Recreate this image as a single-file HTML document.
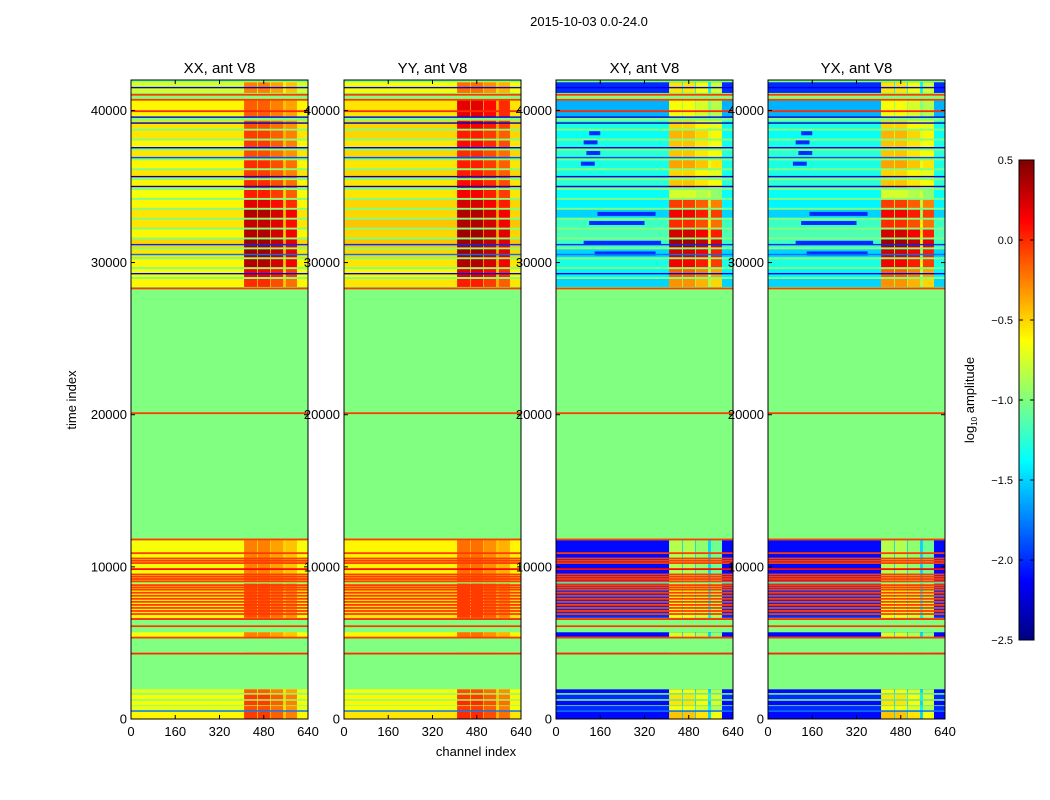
<!DOCTYPE html>
<html><head><meta charset="utf-8">
<style>
body{margin:0;background:#fff;}
svg{display:block;font-family:"Liberation Sans",sans-serif;}
</style></head>
<body>
<svg id="fig" width="1050" height="800" viewBox="0 0 1050 800" xmlns="http://www.w3.org/2000/svg">
<rect width="1050" height="800" fill="#fff"/>
<text x="589" y="26" font-size="13" text-anchor="middle">2015-10-03 0.0-24.0</text>
<text x="76" y="400" font-size="13" text-anchor="middle" transform="rotate(-90 76 400)">time index</text>
<text x="476" y="756" font-size="13" text-anchor="middle">channel index</text>
<g id="panels"></g>
<g id="cbar"></g>
<text x="974" y="400" font-size="13" text-anchor="middle" transform="rotate(-90 974 400)">log<tspan font-size="8" dy="3">10</tspan><tspan dy="-3"> amplitude</tspan></text>
</svg>
<script>
// ---- data ----
const panelTitles = ["XX, ant V8","YY, ant V8","XY, ant V8","YX, ant V8"];
const yTicks = [0,10000,20000,30000,40000];
const xTicks = [0,160,320,480,640];
const cbTicks = [0.5,0.0,-0.5,-1.0,-1.5,-2.0,-2.5];
// time bands of valid data (start, end)
const bandStart = [41150,39600,38800,38150,37500,36850,36200,35550,34900,34250,33600,32950,32300,31650,31000,30350,29700,29050,28400,9000,6650,5400,4250,1700,1300,900,550,0];
const bandEnd   = [41850,40650,39320,38670,38020,37370,36720,36070,35420,34770,34120,33470,32820,32170,31520,30870,30220,29570,28920,11750,8900,5700,4350,1950,1600,1200,850,480];
// left-region value per band (log10 amplitude)
const xxLeft = [-0.75,-0.6,-0.55,-0.55,-0.6,-0.55,-0.6,-0.55,-0.6,-0.65,-0.6,-0.55,-0.55,-0.6,-0.5,-0.55,-0.6,-0.65,-0.6,-0.65,-0.6,-0.65,-0.6,-0.7,-0.65,-0.65,-0.7,-0.6];
const yyLeft = [-0.65,-0.55,-0.5,-0.5,-0.55,-0.5,-0.55,-0.5,-0.55,-0.55,-0.5,-0.5,-0.45,-0.5,-0.45,-0.5,-0.55,-0.6,-0.55,-0.6,-0.55,-0.6,-0.55,-0.65,-0.6,-0.6,-0.65,-0.55];
const xyLeft = [-2.0,-1.6,-1.3,-1.35,-1.3,-1.25,-1.3,-1.3,-1.25,-1.35,-1.4,-1.5,-1.2,-1.15,-1.2,-1.5,-1.3,-1.4,-1.5,-2.1,-2.0,-2.1,-2.1,-2.1,-2.0,-2.1,-2.0,-2.1];
const yxLeft = [-2.0,-1.6,-1.3,-1.35,-1.3,-1.25,-1.3,-1.3,-1.25,-1.35,-1.4,-1.5,-1.2,-1.15,-1.2,-1.5,-1.3,-1.4,-1.5,-2.1,-2.0,-2.1,-2.1,-2.1,-2.0,-2.1,-2.0,-2.1];
// block-region value per band
const xxBlock = [-0.3,-0.2,-0.15,-0.1,-0.1,-0.15,-0.05,-0.1,-0.05,0.0,0.15,0.3,0.25,0.3,0.35,0.35,0.3,0.1,-0.05,-0.3,-0.15,-0.3,-0.3,-0.2,-0.1,-0.1,-0.15,-0.1];
const yyBlock = [-0.25,0.15,0.1,0.0,0.05,-0.05,0.0,0.0,0.05,0.1,0.2,0.3,0.3,0.35,0.35,0.35,0.3,0.15,0.0,-0.25,-0.1,-0.25,-0.3,-0.15,-0.1,-0.05,-0.1,-0.05];
const xyBlock = [-0.6,-0.7,-0.55,-0.45,-0.5,-0.5,-0.4,-0.55,-0.5,-0.8,-0.1,0.1,-0.05,0.2,0.35,0.2,0.1,-0.2,-0.35,-0.9,-0.7,-0.8,-0.7,-0.7,-0.6,-0.6,-0.7,-0.5];
const yxBlock = [-0.6,-0.7,-0.55,-0.45,-0.5,-0.5,-0.4,-0.55,-0.5,-0.8,-0.1,0.1,-0.05,0.2,0.35,0.2,0.1,-0.2,-0.35,-0.9,-0.7,-0.8,-0.7,-0.7,-0.6,-0.6,-0.7,-0.5];
// channel blocks
const blockStart = [409,459,506,560];
const blockEnd   = [456,503,550,600];
const blockOffset = [0.05,0.05,-0.05,-0.15];
// single-row horizontal lines
const redLineT = [41030,40700,39950,28300,20100,11800,10900,10550,10400,10250,9850,9500,9350,9200,9050,8800,8650,8500,8300,8100,7900,7700,7500,7300,7100,6900,6570,6100,5350,4300];
const redLineVal = [-0.05,-0.05,0.0,-0.05,-0.05,-0.05,-0.05,-0.05,-0.05,-0.05,0.1,-0.05,-0.05,-0.05,-0.05,-0.05,-0.05,-0.05,-0.05,-0.05,-0.05,-0.05,-0.05,-0.05,-0.05,-0.05,0.0,-0.05,-0.05,0.0];
const blueLineT = [41500,39560,39170,37550,36900,35650,35000,31180,30530,29270,525];
const blueLineVal = [-2.2,-2.2,-2.3,-2.2,-1.9,-2.3,-2.3,-2.0,-1.8,-2.2,-1.8];
// blue streaks in cross-pol panels (time, channel start, channel end)
const streakT = [38500,37900,37200,36500,33200,32600,31300,30600];
const streakC0 = [120,100,110,90,150,120,100,140];
const streakC1 = [160,150,160,140,360,320,380,360];

// ---- rendering ----
const NS="http://www.w3.org/2000/svg";
const panelX=[131,344,556,768], PW=177, PT=80, PB=719;
const tMax=42000, chMax=640, vmin=-2.5, vmax=0.5;
function jet(v){
  let x=(v-vmin)/(vmax-vmin); x=Math.max(0,Math.min(1,x));
  const f=t=>Math.max(0,Math.min(1,1.5-Math.abs(4*x-t)));
  return `rgb(${Math.round(f(3)*255)},${Math.round(f(2)*255)},${Math.round(f(1)*255)})`;
}
function el(tag,attrs,parent){const e=document.createElementNS(NS,tag);for(const k in attrs)e.setAttribute(k,attrs[k]);parent.appendChild(e);return e;}
const panelsG=document.getElementById('panels');
const leftVals=[xxLeft,yyLeft,xyLeft,yxLeft], blockVals=[xxBlock,yyBlock,xyBlock,yxBlock];
const names=["xx","yy","xy","yx"];
for(let p=0;p<4;p++){
  const x0=panelX[p];
  const xs=c=>x0+c/chMax*PW;
  const ys=t=>PB-t/tMax*(PB-PT);
  const g=el('g',{},panelsG);
  
  
  const bg=el('rect',{x:x0,y:PT,width:PW,height:PB-PT,fill:jet(-1.0)},g);
  
  
  for(let b=0;b<bandStart.length;b++){
    const y1=ys(bandEnd[b]), y2=ys(bandStart[b]);
    const lv=leftVals[p][b], bv=blockVals[p][b];
    const r=el('rect',{x:xs(0),y:y1,width:xs(chMax)-xs(0),height:y2-y1,fill:jet(lv)},g);
    
    
    const gp=el('rect',{x:xs(blockStart[0]),y:y1,width:xs(blockEnd[3])-xs(blockStart[0]),height:y2-y1,fill:jet(p<2?lv+0.15:lv+0.6)},g);
    
    
    for(let k=0;k<blockStart.length;k++){
      const c=el('rect',{x:xs(blockStart[k]),y:y1,width:xs(blockEnd[k])-xs(blockStart[k]),height:y2-y1,fill:jet(bv+blockOffset[k])},g);
      
      
    }
  }
  if(p>=2){
    for(let i=0;i<streakT.length;i++){
      const s=el('rect',{x:xs(streakC0[i]),y:ys(streakT[i])-2,width:xs(streakC1[i])-xs(streakC0[i]),height:4,fill:jet(-2.0)},g);
      
      
    }
  }
  for(let i=0;i<redLineT.length;i++){
    const l=el('rect',{x:x0,y:ys(redLineT[i])-0.9,width:PW,height:1.8,fill:jet(redLineVal[i])},g);
    
    
  }
  for(let i=0;i<blueLineT.length;i++){
    const l=el('rect',{x:x0,y:ys(blueLineT[i])-0.7,width:PW,height:1.4,fill:jet(blueLineVal[i])},g);
    
    
  }
  const fr=el('rect',{x:x0,y:PT,width:PW,height:PB-PT,fill:'none',stroke:'#000','stroke-width':1},g);
  
  
  const tt=el('text',{x:x0+PW/2,y:73,'font-size':15,'text-anchor':'middle'},g);
  tt.textContent=panelTitles[p];
  
  
  for(const t of yTicks){
    const y=ys(t);
    el('line',{x1:x0,x2:x0+4,y1:y,y2:y,stroke:'#000'},g);
    el('line',{x1:x0+PW-4,x2:x0+PW,y1:y,y2:y,stroke:'#000'},g);
    const lb=el('text',{x:x0-4,y:y+4.5,'font-size':13,'text-anchor':'end'},g);
    lb.textContent=t;
    
    
  }
  for(const c of xTicks){
    const x=xs(c);
    el('line',{x1:x,x2:x,y1:PB,y2:PB-4,stroke:'#000'},g);
    el('line',{x1:x,x2:x,y1:PT,y2:PT+4,stroke:'#000'},g);
    const lb=el('text',{x:x,y:PB+17,'font-size':13,'text-anchor':'middle'},g);
    lb.textContent=c;
    
    
  }
}
// colorbar
const cb=document.getElementById('cbar');
const CX=1019,CW=15,CT=160,CB=640;
for(let i=0;i<240;i++){
  const v=vmin+(i+0.5)/240*(vmax-vmin);
  el('rect',{x:CX,y:CB-(i+1)*(CB-CT)/240,width:CW,height:(CB-CT)/240+0.5,fill:jet(v)},cb);
}
el('rect',{x:CX,y:CT,width:CW,height:CB-CT,fill:'none',stroke:'#000'},cb);
for(const v of cbTicks){
  const y=CB-(v-vmin)/(vmax-vmin)*(CB-CT);
  el('line',{x1:CX,x2:CX+4,y1:y,y2:y,stroke:'#000'},cb);
  el('line',{x1:CX+CW-4,x2:CX+CW,y1:y,y2:y,stroke:'#000'},cb);
  const lb=el('text',{x:1013,y:y+4,'font-size':11,'text-anchor':'end'},cb);
  lb.textContent=(v<0?'\u2212':'')+Math.abs(v).toFixed(1);
  
  
}
</script>
</body></html>
